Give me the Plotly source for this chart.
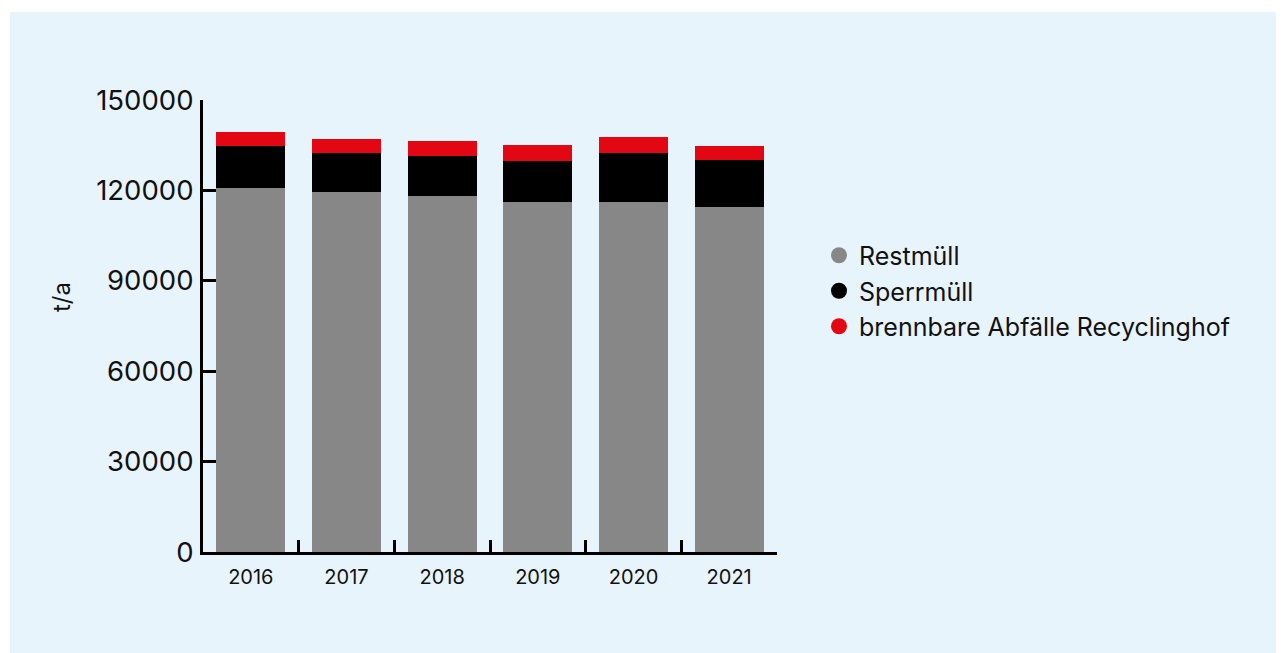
import plotly.graph_objects as go

years = ["2016", "2017", "2018", "2019", "2020", "2021"]
restmuell = [120800, 119500, 118100, 116200, 116200, 114500]
sperrmuell = [13900, 12900, 13300, 13600, 16300, 15600]
brennbar = [4650, 4650, 4980, 5310, 5310, 4650]
series_names = ["Restmüll", "Sperrmüll", "brennbare Abfälle Recyclinghof"]
series_colors = ["#878787", "#000000", "#E30613"]
y_ticks = [0, 30000, 60000, 90000, 120000, 150000]

# page has an 8px body margin; work in screen pixels and shift
OFF = 8
W, H = 1284 - OFF, 653 - OFF
ML = 203 - OFF
MT = 100 - OFF
PR = 777 - OFF
PB = 552 - OFF
MR = W - PR
MB = H - PB
PW, PH = PR - ML, PB - MT

FONT = "Inter"
BG = "#E8F4FC"

fig = go.Figure()
for name, vals, col in zip(series_names, [restmuell, sperrmuell, brennbar], series_colors):
    fig.add_trace(go.Bar(x=years, y=vals, name=name, marker=dict(color=col, line=dict(width=0)),
                         showlegend=False))
for name, col in zip(series_names, series_colors):
    fig.add_trace(go.Scatter(x=[None], y=[None], mode="markers", name=name,
                             marker=dict(color=col, size=20, symbol="circle"), showlegend=True))

def px_x(sx):
    return (sx - OFF - ML) / PW

def px_y(sy):
    return (PB - (sy - OFF)) / PH

fig.add_shape(type="rect", xref="paper", yref="paper",
              x0=px_x(10), x1=px_x(1300), y0=px_y(12), y1=px_y(700),
              fillcolor=BG, line=dict(width=0), layer="below")

fig.add_annotation(text="t/a", xref="paper", yref="paper", x=px_x(61), y=px_y(297),
                   textangle=-90, showarrow=False, font=dict(family=FONT, size=24, color="#111111"),
                   xanchor="center", yanchor="middle")

fig.update_layout(
    width=W, height=H,
    margin=dict(l=ML, r=MR, t=MT, b=MB, autoexpand=False),
    paper_bgcolor="white",
    plot_bgcolor="rgba(0,0,0,0)",
    barmode="stack",
    bargap=0.28,
    font=dict(family=FONT, color="#111111"),
    legend=dict(x=px_x(819), xanchor="left", y=px_y(232.5), yanchor="top",
                traceorder="normal", bgcolor="rgba(0,0,0,0)",
                font=dict(family=FONT, size=25, color="#111111"),
                itemsizing="trace"),
    xaxis=dict(type="category", range=[-0.5, 5.5], showline=True, linecolor="black", linewidth=3,
               ticks="inside", tickson="boundaries", ticklen=12, tickwidth=3, tickcolor="black",
               tickfont=dict(family=FONT, size=20, color="#111111"), showgrid=False,
               ticklabelstandoff=5, zeroline=False),
    yaxis=dict(range=[0, 150000], tickvals=y_ticks, ticktext=[str(v) for v in y_ticks],
               showline=True, linecolor="black", linewidth=3,
               ticks="inside", ticklen=13, tickwidth=3, tickcolor="black",
               tickfont=dict(family=FONT, size=27.5, color="#111111"), showgrid=False,
               zeroline=False, ticklabelstandoff=1),
)

fig.write_html("out.html")
